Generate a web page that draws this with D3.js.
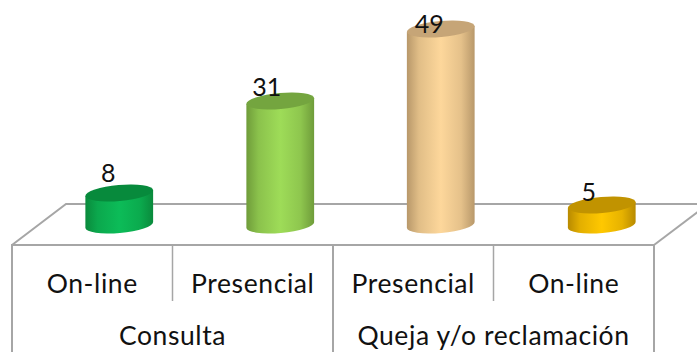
<!DOCTYPE html>
<html><head><meta charset="utf-8">
<script src="https://cdnjs.cloudflare.com/ajax/libs/d3/7.8.5/d3.min.js"></script>
<style>html,body{margin:0;padding:0;background:#fff;overflow:hidden}svg{display:block}text{font-family:"Lato",sans-serif;fill:#111}</style>
</head><body><svg id="c" width="697" height="352"></svg>
<script>
const subCategories = ["On-line","Presencial","Presencial","On-line"];
const groups = ["Consulta","Queja y/o reclamación"];
const values = [8,31,49,5];
const sideColors = ["#0a8a3c","#6f9c3a","#b8986a","#b88a00"];
const midColors = ["#0cbc58","#9edc58","#fdd79b","#ffc800"];
const topColors = ["#078a3c","#74a53f","#c6a577","#c19300"];
const labelNudgeX = [-11,-13,-11,-12];
const labelNudgeY = [-21,-15,-6,-14];

const W=697,H=352,frontY=245,backY=204,left=12,right=654,depth=54;
const svg=d3.select("#c");
const x=d3.scaleBand().domain(d3.range(values.length)).range([left,right]);
const y=d3.scaleLinear().domain([0,49]).range([225,29]);
const gray="#a6a6a6";
const defs=svg.append("defs");
values.forEach((v,i)=>{
  const g=defs.append("linearGradient").attr("id","g"+i);
  [[0,sideColors[i]],[.18,d3.interpolateRgb(sideColors[i],midColors[i])(.6)],[.5,midColors[i]],[.8,d3.interpolateRgb(sideColors[i],midColors[i])(.65)],[1,sideColors[i]]]
    .forEach(s=>g.append("stop").attr("offset",s[0]).attr("stop-color",s[1]));
});
const line=(a,b,c,d,w)=>svg.append("line").attr("x1",a).attr("y1",b).attr("x2",c).attr("y2",d).attr("stroke",gray).attr("stroke-width",w);
svg.append("path").attr("fill","none").attr("stroke",gray).attr("stroke-width",2)
  .attr("d",d3.line()([[left,frontY],[left+depth,backY],[W+2,backY]]));
line(right,frontY,W+2,frontY-34,2);
line(left-1,frontY,right+1,frontY,2);
x.domain().forEach(i=>{ line(x(i),frontY,x(i),(i%2===0)?H:301,i%2===0?2:1.5); });
line(right,frontY,right,H,2);
const rx=34,ry=8,tilt=-5,dx=rx*Math.cos(tilt*Math.PI/180),dy=rx*Math.sin(tilt*Math.PI/180);
const nudgeCol=[0,.5,.5,1];
const col=svg.selectAll("g.col").data(values).join("g").attr("class","col")
  .attr("transform",(d,i)=>`translate(${x(i)+x.bandwidth()/2+depth/2+nudgeCol[i]},0)`);
col.append("path").attr("fill",(d,i)=>`url(#g${i})`)
  .attr("d",d=>{const t=y(d),b=y(0);
    return `M${-dx},${t-dy}L${-dx},${b-dy}A${rx},${ry} ${tilt} 0 0 ${dx},${b+dy}L${dx},${t+dy}Z`;});
col.append("ellipse").attr("rx",rx).attr("ry",ry).attr("fill",(d,i)=>topColors[i])
  .attr("transform",d=>`translate(0,${y(d)}) rotate(${tilt})`);
svg.selectAll("text.val").data(values).join("text").attr("class","val")
  .attr("text-anchor","middle").attr("dominant-baseline","central").attr("font-size",25)
  .attr("x",(d,i)=>x(i)+x.bandwidth()/2+depth/2+labelNudgeX[i])
  .attr("y",(d,i)=>y(d)+labelNudgeY[i]).text(d=>d);
const fs=26.5, ls=0.6;
svg.selectAll("text.sub").data(subCategories).join("text").attr("class","sub")
  .attr("text-anchor","middle").attr("dominant-baseline","central").attr("font-size",fs).attr("letter-spacing",ls)
  .attr("x",(d,i)=>x(i)+x.bandwidth()/2).attr("y",283).text(d=>d);
svg.selectAll("text.grp").data(groups).join("text").attr("class","grp")
  .attr("text-anchor","middle").attr("dominant-baseline","central").attr("font-size",fs).attr("letter-spacing",ls)
  .attr("x",(d,i)=>x(i*2)+x.bandwidth()).attr("y",335).text(d=>d);
</script></body></html>
